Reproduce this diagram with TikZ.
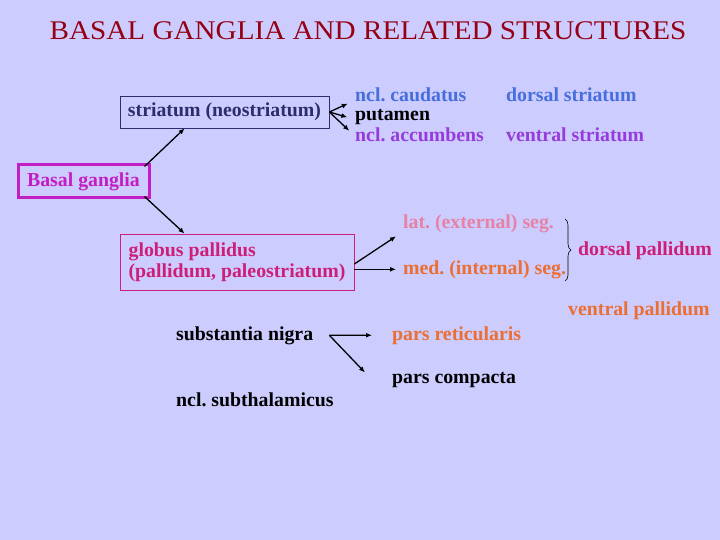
\documentclass[tikz,border=0pt]{standalone}
\usepackage{fontspec}
\setmainfont{Liberation Serif}
\usetikzlibrary{arrows.meta,decorations.pathreplacing}
\definecolor{bgc}{RGB}{204,204,255}
\definecolor{titlered}{RGB}{150,0,20}
\definecolor{navyc}{RGB}{45,45,110}
\definecolor{bluec}{RGB}{70,110,220}
\definecolor{purplec}{RGB}{150,60,220}
\definecolor{magc}{RGB}{195,30,195}
\definecolor{crimc}{RGB}{205,30,120}
\definecolor{pinkc}{RGB}{230,130,165}
\definecolor{orangec}{RGB}{235,110,50}
\frenchspacing
\begin{document}
\begin{tikzpicture}[x=1pt,y=-1pt,
  txt/.style={anchor=base west,inner sep=0pt,font=\bfseries\fontsize{19.8}{22}\selectfont},
  boxed/.style={draw,inner sep=0pt,font=\bfseries\fontsize{19.8}{22}\selectfont},
  arr/.style={-{Latex[length=6pt,width=5pt]},line width=1.3pt,black}]
\fill[bgc] (0,0) rectangle (720,540);
\useasboundingbox (0,0) rectangle (720,540);

\node[anchor=base,inner sep=0pt,text=titlered,font=\fontsize{27}{30}\selectfont] (title) at (368,40) {\scalebox{1.08}[1]{BASAL GANGLIA AND RELATED STRUCTURES}};

% boxes
\node[boxed,draw=navyc,line width=0.8pt,text=navyc,minimum width=209pt,minimum height=32pt] (str) at (224.5,112) {striatum (neostriatum)};
\node[boxed,draw=magc,line width=3pt,text=magc,minimum width=131pt,minimum height=33pt] (bg) at (83.5,181.5) {Basal ganglia};
\node[boxed,draw=crimc,line width=0.8pt,text=crimc,minimum width=234pt,minimum height=56pt,align=left] (gp) at (237,262) {globus pallidus\\[-1pt](pallidum, paleostriatum)};

% striatum parts
\node[txt,text=bluec] (caud) at (355,102) {ncl. caudatus};
\node[txt,text=black] (put) at (355,121) {putamen};
\node[txt,text=purplec] (acc) at (355,142) {ncl. accumbens};
\node[txt,text=bluec] (dstr) at (506,102) {dorsal striatum};
\node[txt,text=purplec] (vstr) at (506,142) {ventral striatum};

% pallidum parts
\node[txt,text=pinkc] (lat) at (403,229) {lat. (external) seg.};
\node[txt,text=orangec] (med) at (403,274) {med. (internal) seg.};
\node[txt,text=crimc] (dpal) at (578,255) {dorsal pallidum};
\node[txt,text=orangec] (vpal) at (568,315) {ventral pallidum};

% nigra
\node[txt,text=black] (sn) at (176,340) {substantia nigra};
\node[txt,text=orangec] (pr) at (392,340) {pars reticularis};
\node[txt,text=black] (pc) at (392,383) {pars compacta};
\node[txt,text=black] (stn) at (176,406) {ncl. subthalamicus};

% connectors
\draw[arr,shorten >=8pt] (str.east) -- ([yshift=-5pt]caud.west);
\draw[arr,shorten >=8pt] (str.east) -- ([yshift=-2pt]put.west);
\draw[arr,shorten >=8pt] (str.east) -- ([yshift=-1pt]acc.west);
\draw[arr] ([shift={(-6,3)}]bg.north east) -- ([xshift=65pt]str.south west);
\draw[arr] ([shift={(-6,-3)}]bg.south east) -- ([xshift=65pt]gp.north west);
\draw[arr] ([yshift=-2pt]gp.east) -- ([shift={(-7,12)}]lat.west);
\draw[arr] (gp.east |- med.west) -- ([xshift=-7pt]med.west);
\coordinate (snf) at ([xshift=16pt]sn.east);
\draw[arr] (snf) -- ([xshift=-20pt]pr.west);
\draw[arr] (snf) -- ([shift={(-27,-7)}]pc.west);

% brace
\draw[line width=0.6pt,decorate,decoration={brace,amplitude=6pt}] (565,219) -- (565,281);
\end{tikzpicture}
\end{document}
